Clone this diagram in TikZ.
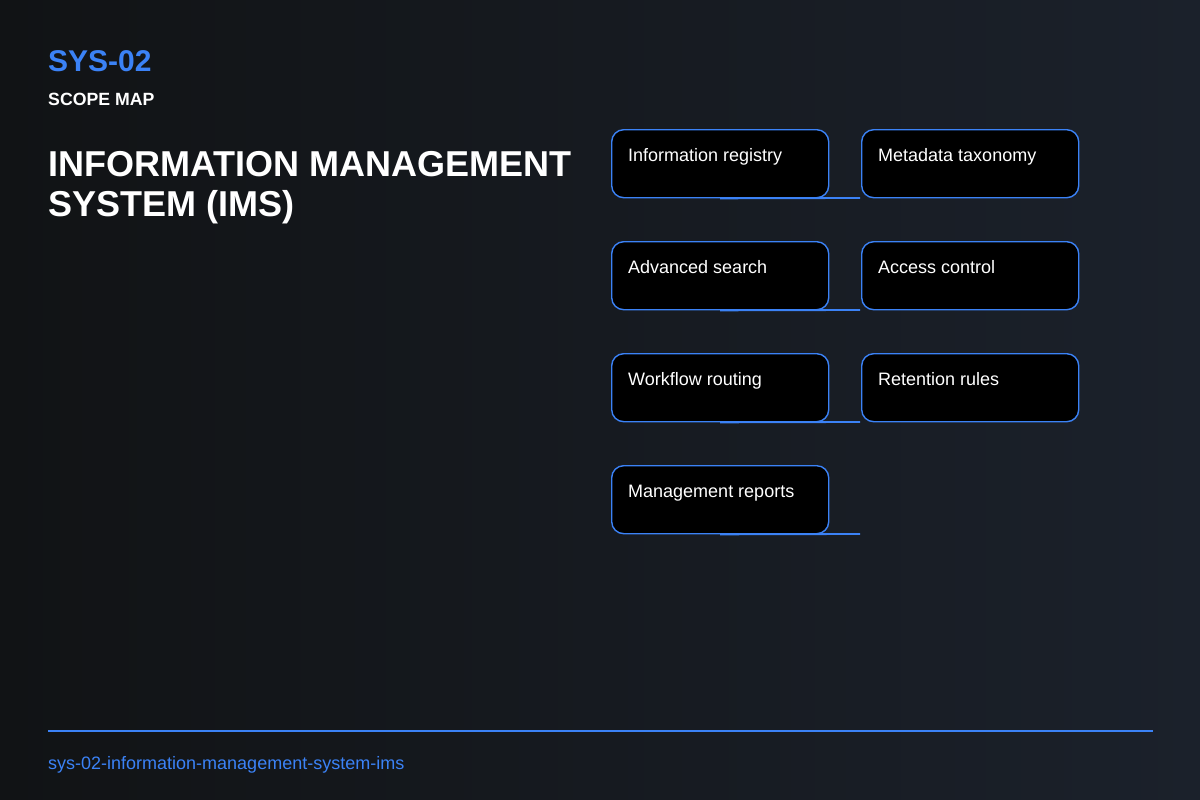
\documentclass[tikz,border=0pt]{standalone}
\usepackage{fontspec}
\setmainfont{Liberation Sans}
\usepackage{tikz}
\usetikzlibrary{positioning}

\definecolor{bgleft}{HTML}{111315}
\definecolor{bgright}{HTML}{1B212B}
\definecolor{accent}{HTML}{3B82F6}

\begin{document}
\begin{tikzpicture}[x=1pt,y=-1pt,
  item/.style={draw=accent, line width=1.4pt, fill=black, rounded corners=12pt, minimum width=217pt, minimum height=68pt, anchor=north west, inner sep=0pt},
  itemtext/.style={text=white, font=\fontsize{18}{21}\selectfont, anchor=base west, inner sep=0pt},
  linkstub/.style={draw=accent, line width=1.8pt}]
% background
\shade[left color=bgleft, right color=bgright] (0,0) rectangle (1200,800);
\useasboundingbox (0,0) rectangle (1200,800);

% heading
\node[anchor=base west, inner sep=0pt, text=accent, font=\bfseries\fontsize{30}{33}\selectfont] (code) at (48,72) {SYS-02};
\node[anchor=base west, inner sep=0pt, text=white, font=\bfseries\fontsize{17.7}{20}\selectfont] (kind) at (48,105) {SCOPE MAP};
\node[anchor=base west, inner sep=0pt, text=white, align=left, font=\bfseries\fontsize{36}{39.5}\selectfont] (title) at (48,216) {INFORMATION MANAGEMENT\\SYSTEM (IMS)};

% scope items
\node[item] (reg) at (611,129) {};
\node[itemtext] (regT) at ([xshift=17pt,yshift=-32pt]reg.north west) {Information registry};
\node[item] (meta) at (861,129) {};
\node[itemtext] (metaT) at ([xshift=17pt,yshift=-32pt]meta.north west) {Metadata taxonomy};

\node[item] (search) at (611,241) {};
\node[itemtext] (searchT) at ([xshift=17pt,yshift=-32pt]search.north west) {Advanced search};
\node[item] (access) at (861,241) {};
\node[itemtext] (accessT) at ([xshift=17pt,yshift=-32pt]access.north west) {Access control};

\node[item] (flow) at (611,353) {};
\node[itemtext] (flowT) at ([xshift=17pt,yshift=-32pt]flow.north west) {Workflow routing};
\node[item] (keep) at (861,353) {};
\node[itemtext] (keepT) at ([xshift=17pt,yshift=-32pt]keep.north west) {Retention rules};

\node[item] (report) at (611,465) {};
\node[itemtext] (reportT) at ([xshift=17pt,yshift=-32pt]report.north west) {Management reports};

% stubs under the left column
\coordinate (regS) at (reg.south);
\coordinate (regE) at (860,198);
\coordinate (searchS) at (search.south);
\coordinate (searchE) at (860,310);
\coordinate (flowS) at (flow.south);
\coordinate (flowE) at (860,422);
\coordinate (reportS) at (report.south);
\coordinate (reportE) at (860,534);
\draw[linkstub] (regS) -- (regE);
\draw[linkstub] (searchS) -- (searchE);
\draw[linkstub] (flowS) -- (flowE);
\draw[linkstub] (reportS) -- (reportE);

% footer
\coordinate (ruleL) at (48,731);
\coordinate (ruleR) at (1153,731);
\draw[color=accent, line width=1.8pt] (ruleL) -- (ruleR);
\node[anchor=base west, inner sep=0pt, text=accent, font=\fontsize{18}{21}\selectfont] (slug) at (48,769) {sys-02-information-management-system-ims};
\end{tikzpicture}
\end{document}
